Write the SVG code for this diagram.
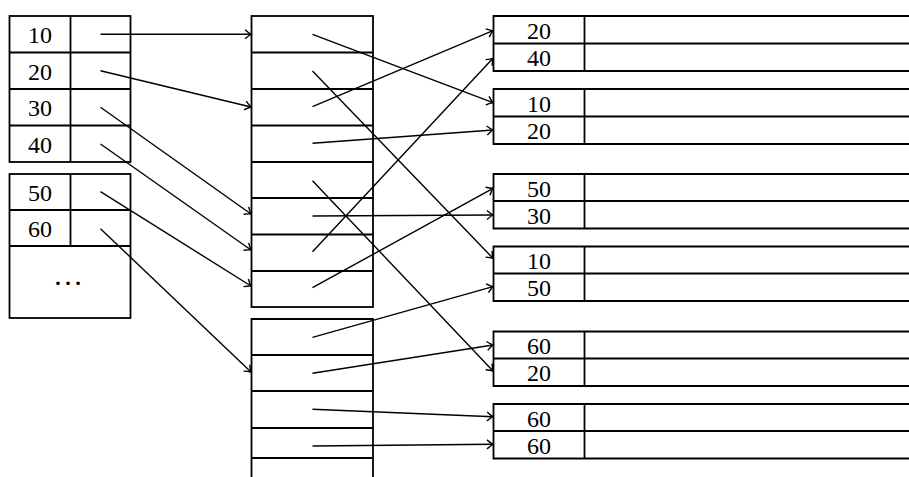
<svg xmlns="http://www.w3.org/2000/svg" width="909" height="477" viewBox="0 0 909 477">
<style>
.bx{fill:none;stroke:#000;stroke-width:1.8}
.ln{stroke:#000;stroke-width:1.8}
.t{font-family:"Liberation Serif","Times New Roman",serif;font-size:24px;fill:#000;text-anchor:middle}
.c{stroke:#000;stroke-width:1.4;fill:none;marker-end:url(#ah)}
</style>
<defs>
<marker id="ah" markerUnits="userSpaceOnUse" markerWidth="14" markerHeight="14" viewBox="-8 -7 10 14" refX="0" refY="0" orient="auto" overflow="visible">
<path d="M-6,-4.5 Q-2,-1 0,0 Q-2,1 -6,4.5" fill="none" stroke="#000" stroke-width="1.4"/>
</marker>
</defs>
<rect width="909" height="477" fill="#fff"/>

<g id="left1">
<rect class="bx" x="9.5" y="16" width="121" height="146"/>
<line class="ln" x1="9.5" y1="52.5" x2="130.5" y2="52.5"/>
<line class="ln" x1="9.5" y1="89" x2="130.5" y2="89"/>
<line class="ln" x1="9.5" y1="125.5" x2="130.5" y2="125.5"/>
<line class="ln" x1="70.5" y1="16" x2="70.5" y2="162"/>
<text class="t" x="40" y="43">10</text>
<text class="t" x="40" y="79.5">20</text>
<text class="t" x="40" y="116">30</text>
<text class="t" x="40" y="152.5">40</text>
</g>

<g id="left2">
<rect class="bx" x="9.5" y="174" width="121" height="144"/>
<line class="ln" x1="9.5" y1="210" x2="130.5" y2="210"/>
<line class="ln" x1="9.5" y1="246" x2="130.5" y2="246"/>
<line class="ln" x1="70.5" y1="174" x2="70.5" y2="246"/>
<text class="t" x="40" y="201">50</text>
<text class="t" x="40" y="237">60</text>
<text class="t" x="68" y="285" style="font-size:30px">…</text>
</g>

<g id="midA">
<rect class="bx" x="251.5" y="16" width="121.5" height="291"/>
<line class="ln" x1="251.5" y1="52.5" x2="373" y2="52.5"/>
<line class="ln" x1="251.5" y1="89" x2="373" y2="89"/>
<line class="ln" x1="251.5" y1="125.5" x2="373" y2="125.5"/>
<line class="ln" x1="251.5" y1="162" x2="373" y2="162"/>
<line class="ln" x1="251.5" y1="198" x2="373" y2="198"/>
<line class="ln" x1="251.5" y1="234.5" x2="373" y2="234.5"/>
<line class="ln" x1="251.5" y1="271" x2="373" y2="271"/>
</g>

<g id="midB">
<path class="bx" d="M251.5,478 V319 H373 V478"/>
<line class="ln" x1="251.5" y1="355" x2="373" y2="355"/>
<line class="ln" x1="251.5" y1="391" x2="373" y2="391"/>
<line class="ln" x1="251.5" y1="428" x2="373" y2="428"/>
<line class="ln" x1="251.5" y1="458" x2="373" y2="458"/>
</g>

<g id="r1">
<path class="bx" d="M912,16 H493.5 V71 H912 M493.5,43.5 H912 M584.5,16 V71"/>
<text class="t" x="539" y="39">20</text>
<text class="t" x="539" y="66">40</text>
</g>
<g id="r2">
<path class="bx" d="M912,89 H493.5 V144 H912 M493.5,116.5 H912 M584.5,89 V144"/>
<text class="t" x="539" y="112">10</text>
<text class="t" x="539" y="139">20</text>
</g>
<g id="r3">
<path class="bx" d="M912,174 H493.5 V228.5 H912 M493.5,201 H912 M584.5,174 V228.5"/>
<text class="t" x="539" y="196.5">50</text>
<text class="t" x="539" y="223.5">30</text>
</g>
<g id="r4">
<path class="bx" d="M912,246.5 H493.5 V301 H912 M493.5,273.5 H912 M584.5,246.5 V301"/>
<text class="t" x="539" y="269">10</text>
<text class="t" x="539" y="296">50</text>
</g>
<g id="r5">
<path class="bx" d="M912,331.5 H493.5 V386 H912 M493.5,358.5 H912 M584.5,331.5 V386"/>
<text class="t" x="539" y="354">60</text>
<text class="t" x="539" y="381">20</text>
</g>
<g id="r6">
<path class="bx" d="M912,404 H493.5 V458.5 H912 M493.5,431 H912 M584.5,404 V458.5"/>
<text class="t" x="539" y="426.5">60</text>
<text class="t" x="539" y="453.5">60</text>
</g>

<g id="connectors">
<line class="c" x1="100.5" y1="34.3" x2="251" y2="34.3"/>
<line class="c" x1="100.5" y1="70.7" x2="251" y2="107"/>
<line class="c" x1="100.5" y1="107.3" x2="251" y2="214"/>
<line class="c" x1="100.5" y1="144" x2="251" y2="250"/>
<line class="c" x1="100.5" y1="191.7" x2="251" y2="286"/>
<line class="c" x1="100.5" y1="228.7" x2="251" y2="372"/>

<line class="c" x1="312.5" y1="34.3" x2="493" y2="102.7"/>
<line class="c" x1="312.5" y1="71" x2="493" y2="258.3"/>
<line class="c" x1="312.5" y1="106.7" x2="493" y2="30.7"/>
<line class="c" x1="312.5" y1="143.3" x2="493" y2="130"/>
<line class="c" x1="312.5" y1="180.7" x2="493" y2="371"/>
<line class="c" x1="312.5" y1="216" x2="493" y2="215"/>
<line class="c" x1="312.5" y1="251.7" x2="493" y2="58.3"/>
<line class="c" x1="312.5" y1="287.7" x2="493" y2="188.3"/>
<line class="c" x1="312.5" y1="337.3" x2="493" y2="286.7"/>
<line class="c" x1="312.5" y1="373.3" x2="493" y2="345"/>
<line class="c" x1="312.5" y1="409.3" x2="493" y2="416.7"/>
<line class="c" x1="312.5" y1="446" x2="493" y2="444.3"/>
</g>
</svg>
